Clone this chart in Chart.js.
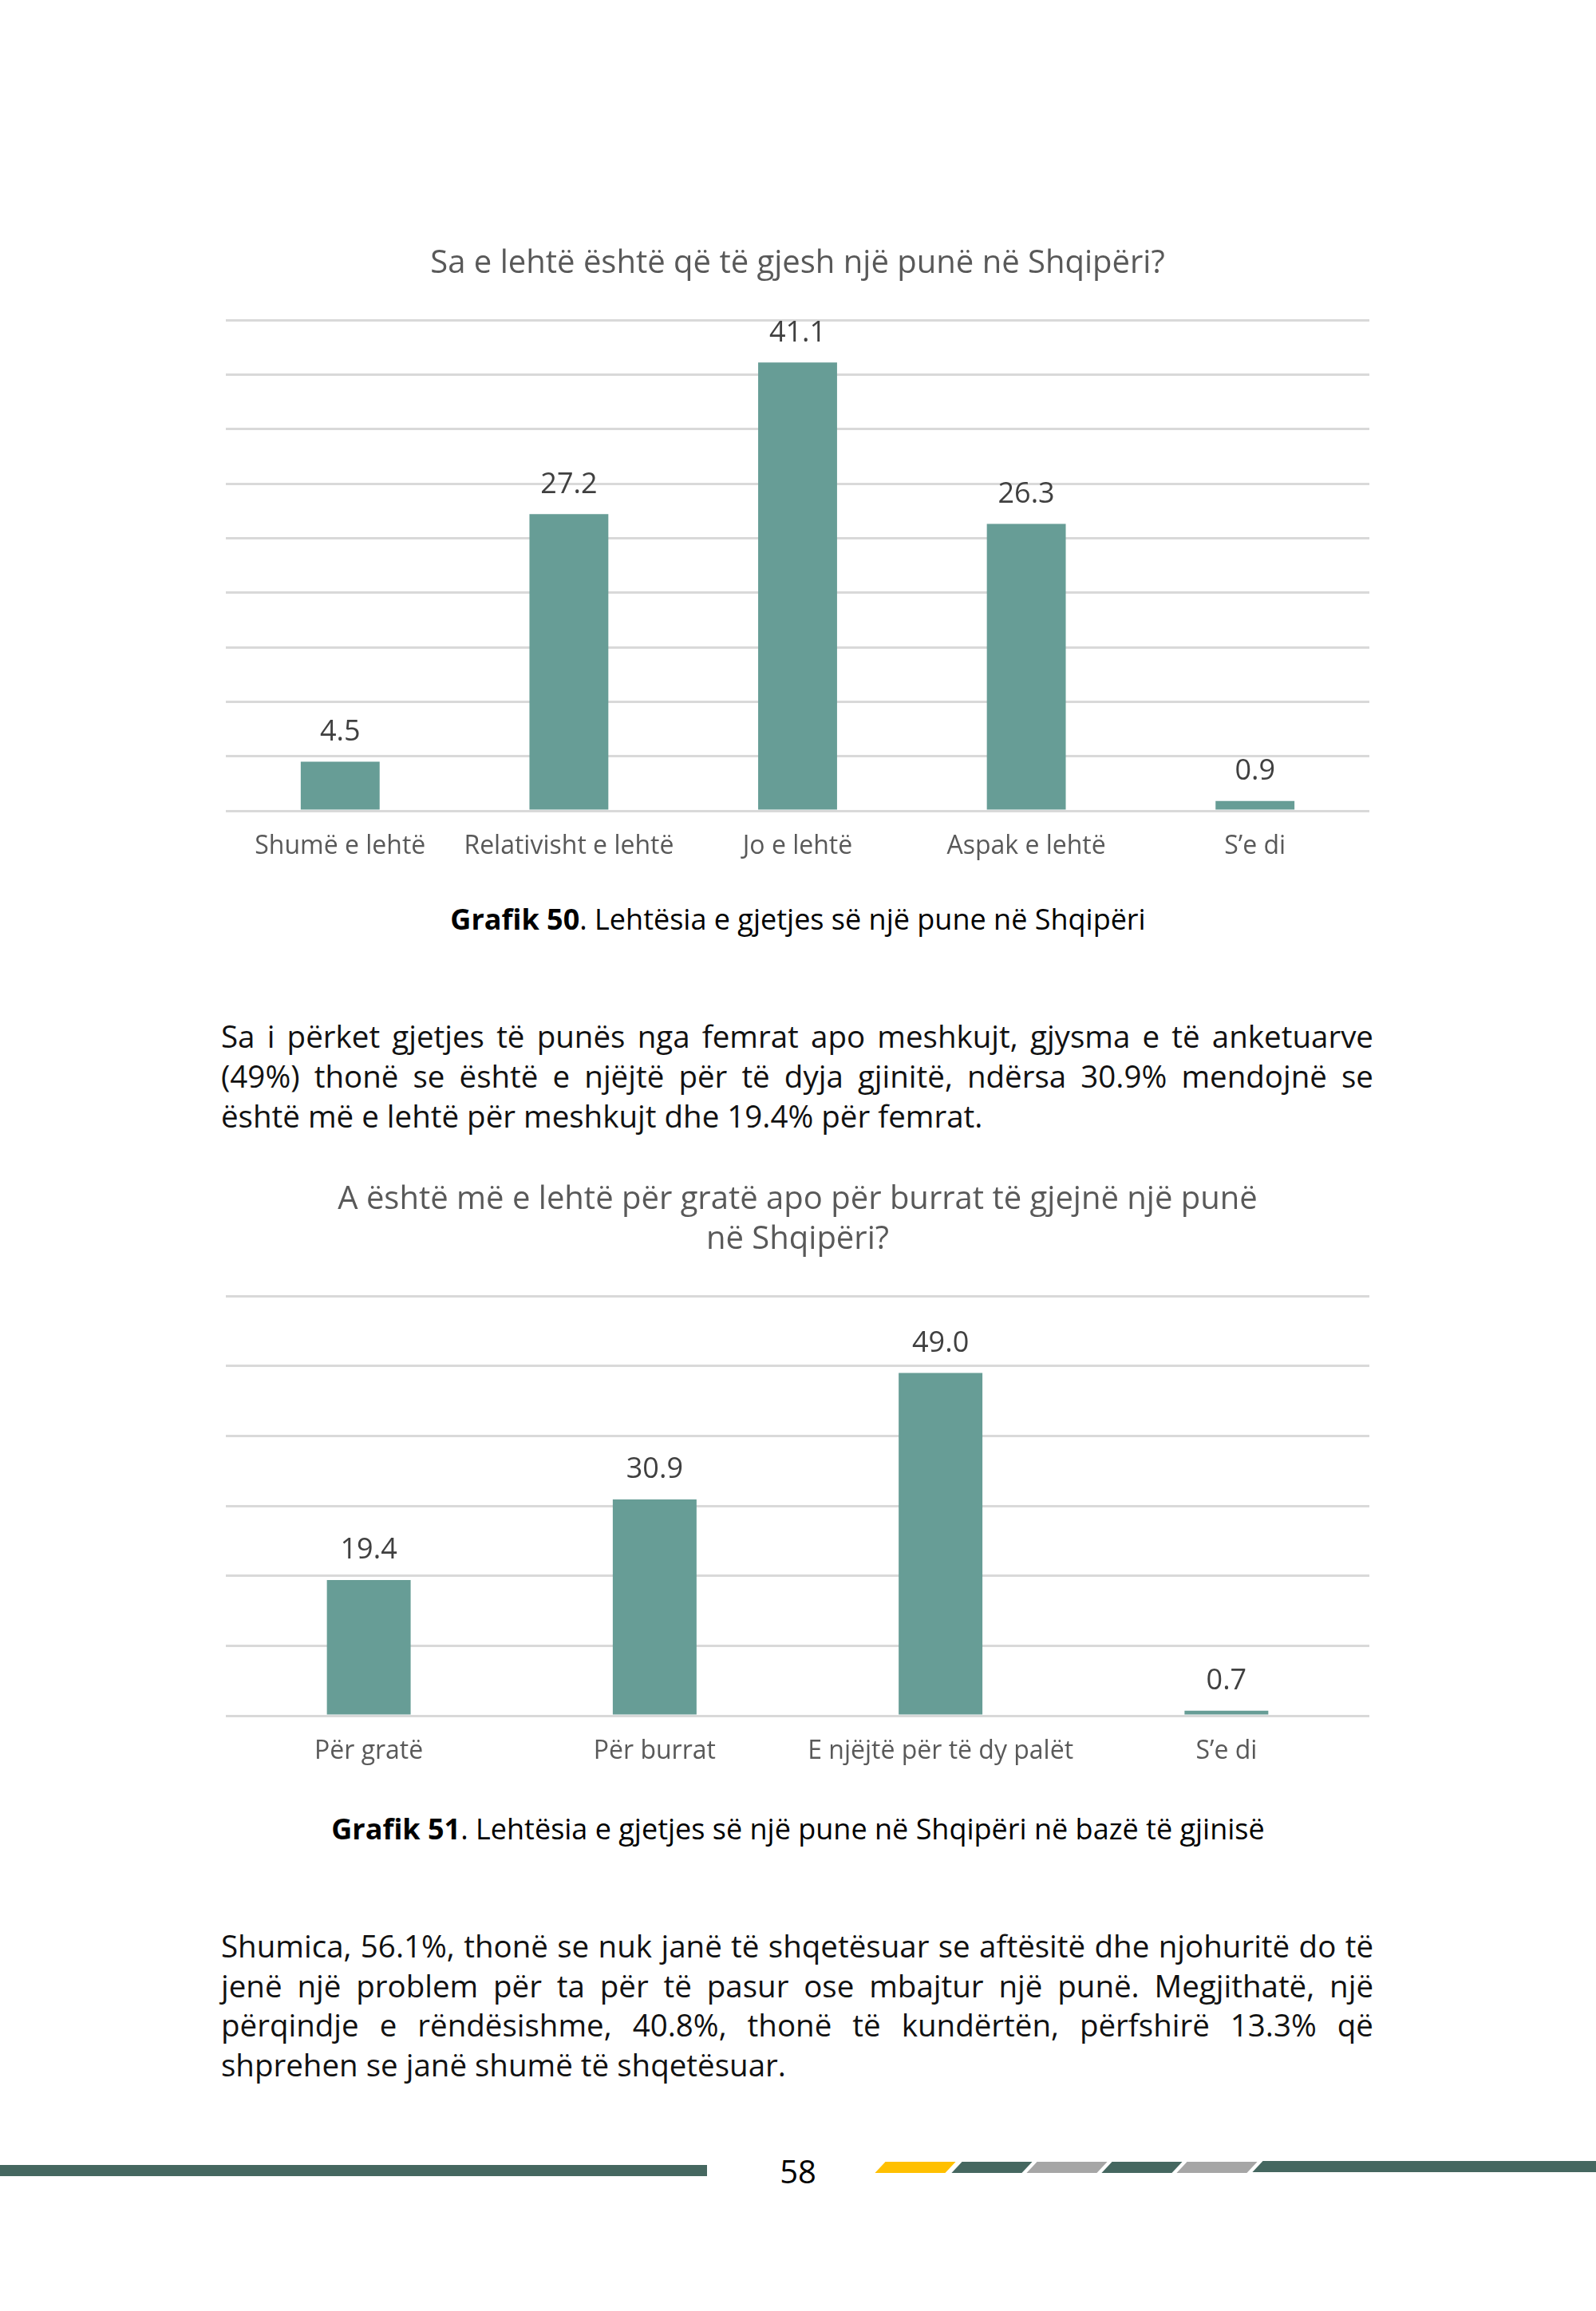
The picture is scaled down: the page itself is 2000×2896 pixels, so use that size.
<!DOCTYPE html>
<html>
<head>
<meta charset="utf-8">
<script src="https://cdn.jsdelivr.net/npm/chart.js@4.4.0/dist/chart.umd.min.js"></script>
<style>
    body { margin: 0; background: #fff; font-family: "Open Sans", sans-serif; }
    .page { position: relative; width: 2000px; height: 2896px; overflow: hidden; background: #fff; }
    .box { position: absolute; }
    .line { position: absolute; left: 277px; width: 1444px; font-size: 38.5px; color: #111; white-space: nowrap; line-height: 50px; }
    .just { text-align: justify; text-align-last: justify; white-space: normal; }
    .caption { position: absolute; left: 0; width: 2000px; text-align: center; font-size: 36px; color: #000; line-height: 40px; }
    .seg { position: absolute; height: 14px; transform: skewX(-43deg); }
</style>
</head>
<body>
<div class="page">
    <div class="box" style="left:283px; top:288px; width:1433px; height:809px;"><canvas id="chart1"></canvas></div>
    <div class="caption" style="top:1132px;"><b>Grafik 50</b>. Lehtësia e gjetjes së një pune në Shqipëri</div>

    <div class="line just" style="top:1273px;">Sa i përket gjetjes të punës nga femrat apo meshkujt, gjysma e të anketuarve</div>
    <div class="line just" style="top:1323px;">(49%) thonë se është e njëjtë për të dyja gjinitë, ndërsa 30.9% mendojnë se</div>
    <div class="line" style="top:1373px;">është më e lehtë për meshkujt dhe 19.4% për femrat.</div>

    <div class="box" style="left:283px; top:1461px; width:1433px; height:770px;"><canvas id="chart2"></canvas></div>
    <div class="caption" style="top:2272px;"><b>Grafik 51</b>. Lehtësia e gjetjes së një pune në Shqipëri në bazë të gjinisë</div>

    <div class="line just" style="top:2413px;">Shumica, 56.1%, thonë se nuk janë të shqetësuar se aftësitë dhe njohuritë do të</div>
    <div class="line just" style="top:2463px;">jenë një problem për ta për të pasur ose mbajtur një punë. Megjithatë, një</div>
    <div class="line just" style="top:2512px;">përqindje e rëndësishme, 40.8%, thonë të kundërtën, përfshirë 13.3% që</div>
    <div class="line" style="top:2562px;">shprehen se janë shumë të shqetësuar.</div>

    <!-- pied de page -->
    <div class="box" style="left:0; top:2713px; width:886px; height:14px; background:#456760;"></div>
    <div class="box" style="left:960px; top:2693px; width:80px; text-align:center; font-size:40px; color:#000;">58</div>
    <div class="seg" style="left:1103px; top:2709px; width:88px; background:#FFC000;"></div>
    <div class="seg" style="left:1199px; top:2709px; width:88px; background:#456760;"></div>
    <div class="seg" style="left:1293px; top:2709px; width:88px; background:#A6A6A6;"></div>
    <div class="seg" style="left:1387px; top:2709px; width:88px; background:#456760;"></div>
    <div class="seg" style="left:1481px; top:2709px; width:88px; background:#A6A6A6;"></div>
    <div class="seg" style="left:1576px; top:2708px; width:450px; background:#456760;"></div>
</div>

<script>
// graphique 50
const categories1 = ["Shumë e lehtë", "Relativisht e lehtë", "Jo e lehtë", "Aspak e lehtë", "S’e di"];
const values1 = [4.5, 27.2, 41.1, 26.3, 0.9];
const title1 = ["Sa e lehtë është që të gjesh një punë në Shqipëri?"];

// graphique 51
const categories2 = ["Për gratë", "Për burrat", "E njëjtë për të dy palët", "S’e di"];
const values2 = [19.4, 30.9, 49.0, 0.7];
const title2 = ["A është më e lehtë për gratë apo për burrat të gjejnë një punë", "në Shqipëri?"];

const barColor = "#679D96";
const gridColor = "#d9d9d9";
const fontName = "Open Sans";

// plugin pour écrire la valeur au-dessus de chaque barre
const valueLabels = {
    id: "valueLabels",
    afterDatasetsDraw(chart) {
        const ctx = chart.ctx;
        const meta = chart.getDatasetMeta(0);
        ctx.save();
        ctx.font = "36px '" + fontName + "'";
        ctx.fillStyle = "#404040";
        ctx.textAlign = "center";
        ctx.textBaseline = "middle";
        meta.data.forEach((bar, i) => {
            const v = chart.data.datasets[0].data[i];
            ctx.fillText(v.toFixed(1), bar.x, bar.y - 37);
        });
        ctx.restore();
    }
};

function makeChart(id, labels, values, title, max, step, barPct) {
    return new Chart(document.getElementById(id).getContext("2d"), {
        type: "bar",
        data: {
            labels: labels,
            datasets: [{
                data: values,
                backgroundColor: barColor,
                borderWidth: 0,
                categoryPercentage: 1,
                barPercentage: barPct
            }]
        },
        options: {
            responsive: true,
            maintainAspectRatio: false,
            animation: false,
            layout: { padding: 0 },
            plugins: {
                legend: { display: false },
                tooltip: { enabled: false },
                title: {
                    display: true,
                    text: title,
                    color: "#595959",
                    font: { family: fontName, size: 40, weight: "normal", lineHeight: "50px" },
                    padding: { top: 18, bottom: 45 }
                }
            },
            scales: {
                x: {
                    grid: { display: false },
                    border: { display: false },
                    ticks: { color: "#595959", font: { family: fontName, size: 32, lineHeight: "35px" }, padding: 19, maxRotation: 0 }
                },
                y: {
                    min: 0,
                    max: max,
                    ticks: { display: false, stepSize: step },
                    grid: { color: gridColor, lineWidth: 3, drawTicks: false },
                    border: { display: false }
                }
            }
        },
        plugins: [valueLabels]
    });
}

const chart1 = makeChart("chart1", categories1, values1, title1, 45, 5, 0.345);
const chart2 = makeChart("chart2", categories2, values2, title2, 60, 10, 0.293);
</script>
</body>
</html>
